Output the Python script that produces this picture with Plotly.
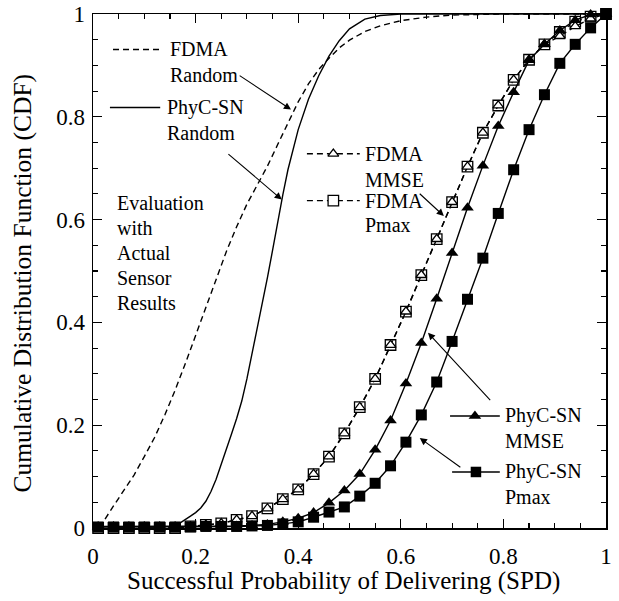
import plotly.graph_objects as go

# ---------------- data ----------------
spd_points = [0.01, 0.04, 0.07, 0.10, 0.13, 0.16, 0.19, 0.22, 0.25, 0.28,
              0.31, 0.34, 0.37, 0.40, 0.43, 0.46, 0.49, 0.52, 0.55, 0.58,
              0.61, 0.64, 0.67, 0.70, 0.73, 0.76, 0.79, 0.82, 0.85, 0.88,
              0.91, 0.94, 0.97, 1.00]

fdma_pmax = [0, 0, 0, 0, 0, 0, 0.003, 0.006, 0.009, 0.016,
             0.023, 0.038, 0.056, 0.075, 0.105, 0.139, 0.184, 0.235, 0.290, 0.356,
             0.421, 0.492, 0.562, 0.634, 0.703, 0.769, 0.822, 0.872, 0.911, 0.941,
             0.965, 0.985, 0.995, 1.0]

fdma_mmse = [0, 0, 0, 0, 0, 0, 0.003, 0.006, 0.009, 0.016,
             0.023, 0.038, 0.056, 0.075, 0.105, 0.139, 0.184, 0.235, 0.290, 0.356,
             0.421, 0.492, 0.562, 0.634, 0.703, 0.769, 0.822, 0.872, 0.911, 0.941,
             0.957, 0.976, 0.991, 1.0]

phyc_mmse = [0.003, 0.003, 0.003, 0.003, 0.003, 0.003, 0.003, 0.003, 0.003, 0.004,
             0.005, 0.007, 0.012, 0.019, 0.030, 0.049, 0.073, 0.105, 0.152, 0.209,
             0.281, 0.360, 0.446, 0.535, 0.623, 0.705, 0.782, 0.848, 0.910, 0.941,
             0.968, 0.988, 0.999, 1.0]

phyc_pmax = [0.002, 0.002, 0.002, 0.002, 0.002, 0.002, 0.002, 0.003, 0.003, 0.003,
             0.004, 0.005, 0.008, 0.012, 0.021, 0.031, 0.041, 0.062, 0.087, 0.121,
             0.167, 0.220, 0.284, 0.363, 0.445, 0.525, 0.612, 0.697, 0.775, 0.843,
             0.904, 0.941, 0.973, 1.0]

fdma_rand_x = [0.015, 0.02, 0.04, 0.06, 0.08, 0.10, 0.12, 0.14, 0.16, 0.18,
               0.20, 0.22, 0.24, 0.26, 0.28, 0.30, 0.32, 0.34, 0.36, 0.38,
               0.40, 0.42, 0.44, 0.46, 0.48, 0.50, 0.53, 0.56, 0.60, 0.65,
               0.70, 0.80, 1.0]
fdma_rand_y = [0, 0.012, 0.043, 0.074, 0.103, 0.139, 0.176, 0.220, 0.268, 0.320,
               0.374, 0.430, 0.482, 0.538, 0.586, 0.630, 0.667, 0.704, 0.746, 0.789,
               0.829, 0.864, 0.892, 0.914, 0.934, 0.949, 0.966, 0.977, 0.987, 0.994,
               0.998, 1.0, 1.0]

phyc_rand_x = [0.15, 0.16, 0.17, 0.18, 0.19, 0.20, 0.21, 0.22, 0.23, 0.24,
               0.25, 0.26, 0.27, 0.28, 0.29, 0.30, 0.31, 0.32, 0.33, 0.34,
               0.35, 0.36, 0.37, 0.38, 0.39, 0.40, 0.42, 0.44, 0.46, 0.48,
               0.50, 0.53, 0.56, 0.60, 1.0]
phyc_rand_y = [0, 0.004, 0.010, 0.016, 0.023, 0.030, 0.039, 0.052, 0.071, 0.095,
               0.123, 0.153, 0.183, 0.213, 0.247, 0.290, 0.338, 0.390, 0.440, 0.487,
               0.540, 0.597, 0.648, 0.697, 0.738, 0.775, 0.834, 0.880, 0.918, 0.948,
               0.971, 0.990, 0.997, 1.0, 1.0]

tick_vals = [0, 0.2, 0.4, 0.6, 0.8, 1]
tick_text = ["0", "0.2", "0.4", "0.6", "0.8", "1"]

x_title = "Successful Probability of Delivering (SPD)"
y_title = "Cumulative Distribution Function (CDF)"

# ---------------- styling ----------------
FONT = "Liberation Serif, Times New Roman, serif"
BLACK = "black"
DASH = "6px,4px"

fig = go.Figure()

def add_line(x, y, dash=None, mode="lines", symbol=None, filled=True, size=10):
    marker = None
    if symbol:
        marker = dict(symbol=symbol, size=size,
                      color=BLACK if filled else "white",
                      line=dict(color=BLACK, width=0 if filled else 1.3))
    fig.add_trace(go.Scatter(
        x=x, y=y, mode=mode,
        line=dict(color=BLACK, width=1.4, dash=dash),
        marker=marker, cliponaxis=False, showlegend=False,
        hoverinfo="skip"))

# random curves
add_line(fdma_rand_x, fdma_rand_y, dash=DASH)
add_line(phyc_rand_x, phyc_rand_y)

# marker curves
add_line(spd_points, fdma_pmax, dash=DASH, mode="lines+markers",
         symbol="square", filled=False, size=10.5)
add_line(spd_points, fdma_mmse, dash=DASH, mode="lines+markers",
         symbol="triangle-up", filled=False, size=9.5)
add_line(spd_points, phyc_pmax, mode="lines+markers",
         symbol="square", filled=True, size=11)
add_line(spd_points, phyc_mmse, mode="lines+markers",
         symbol="triangle-up", filled=True, size=11)

# ---------------- in-plot key samples ----------------
key_samples = [
    # (x0, x1, y, dash, symbol, filled)
    (0.039, 0.135, 0.931, DASH, None, None),
    (0.033, 0.131, 0.818, None, None, None),
    (0.417, 0.520, 0.728, DASH, "triangle-up", False),
    (0.417, 0.520, 0.637, DASH, "square", False),
    (0.696, 0.793, 0.218, None, "triangle-up", True),
    (0.700, 0.793, 0.109, None, "square", True),
]
for x0, x1, yy, dash, sym, filled in key_samples:
    add_line([x0, x1], [yy, yy], dash=dash)
    if sym:
        xm = (x0 + x1) / 2
        add_line([xm], [yy], mode="markers", symbol=sym, filled=filled,
                 size=10.5 if sym == "square" else (11 if filled else 9.5))

# ---------------- text labels ----------------
text_lines = [
    (0.146, [0.931, 0.882], ["FDMA", "Random"]),
    (0.140, [0.818, 0.769], ["PhyC-SN", "Random"]),
    (0.043, [0.633, 0.584, 0.536, 0.487, 0.438],
     ["Evaluation", "with", "Actual", "Sensor", "Results"]),
    (0.526, [0.728, 0.678], ["FDMA", "MMSE"]),
    (0.526, [0.637, 0.590], ["FDMA", "Pmax"]),
    (0.799, [0.218, 0.169], ["PhyC-SN", "MMSE"]),
    (0.799, [0.109, 0.060], ["PhyC-SN", "Pmax"]),
]
annotations = []
for xx, ys, texts in text_lines:
    for yy, t in zip(ys, texts):
        annotations.append(dict(x=xx, y=yy, xref="x", yref="y", text=t,
                                showarrow=False, xanchor="left", yanchor="middle",
                                font=dict(family=FONT, size=20, color=BLACK)))

arrows = [
    # (tail x, tail y, head x, head y)
    (0.283, 0.882, 0.386, 0.814),
    (0.261, 0.730, 0.368, 0.639),
    (0.634, 0.653, 0.684, 0.607),
    (0.777, 0.246, 0.653, 0.380),
    (0.719, 0.116, 0.637, 0.175),
]
for tx, ty, hx, hy in arrows:
    annotations.append(dict(x=hx, y=hy, ax=tx, ay=ty, xref="x", yref="y",
                            axref="x", ayref="y", text="", showarrow=True,
                            arrowhead=2, arrowsize=1.3, arrowwidth=1.1,
                            arrowcolor=BLACK, standoff=0))

# axis titles
annotations.append(dict(x=0.488, y=-0.104, xref="paper", yref="paper",
                        text=x_title, showarrow=False,
                        xanchor="center", yanchor="middle",
                        font=dict(family=FONT, size=25, color=BLACK)))
annotations.append(dict(x=-0.138, y=0.476, xref="paper", yref="paper",
                        text=y_title, showarrow=False, textangle=-90,
                        xanchor="center", yanchor="middle",
                        font=dict(family=FONT, size=25.5, color=BLACK)))

axis_common = dict(
    range=[0, 1], showline=True, linecolor=BLACK, linewidth=1.5,
    mirror="allticks", ticks="inside", ticklen=9, tickwidth=1.3,
    tickcolor=BLACK, showgrid=False, zeroline=False, automargin=False,
    tickvals=tick_vals, ticktext=tick_text, ticklabeloverflow="allow",
    tickfont=dict(family=FONT, size=23, color=BLACK),
    minor=dict(ticks="inside", ticklen=5, tickwidth=1.1, tickcolor=BLACK,
               dtick=0.05, showgrid=False),
)

fig.update_layout(
    width=619, height=601,
    margin=dict(l=93, r=13, t=14, b=73, autoexpand=False),
    paper_bgcolor="white", plot_bgcolor="white",
    font=dict(family=FONT, color=BLACK),
    xaxis=dict(**axis_common, ticklabelstandoff=7),
    yaxis=dict(**axis_common, ticklabelstandoff=2),
    annotations=annotations,
)

# remove the browser's default 8px body margin so the figure fills the window
fig.write_html("out.html",
               config={"displayModeBar": False, "staticPlot": True},
               post_script="document.body.style.margin='0';"
                           "document.body.style.overflow='hidden';")
